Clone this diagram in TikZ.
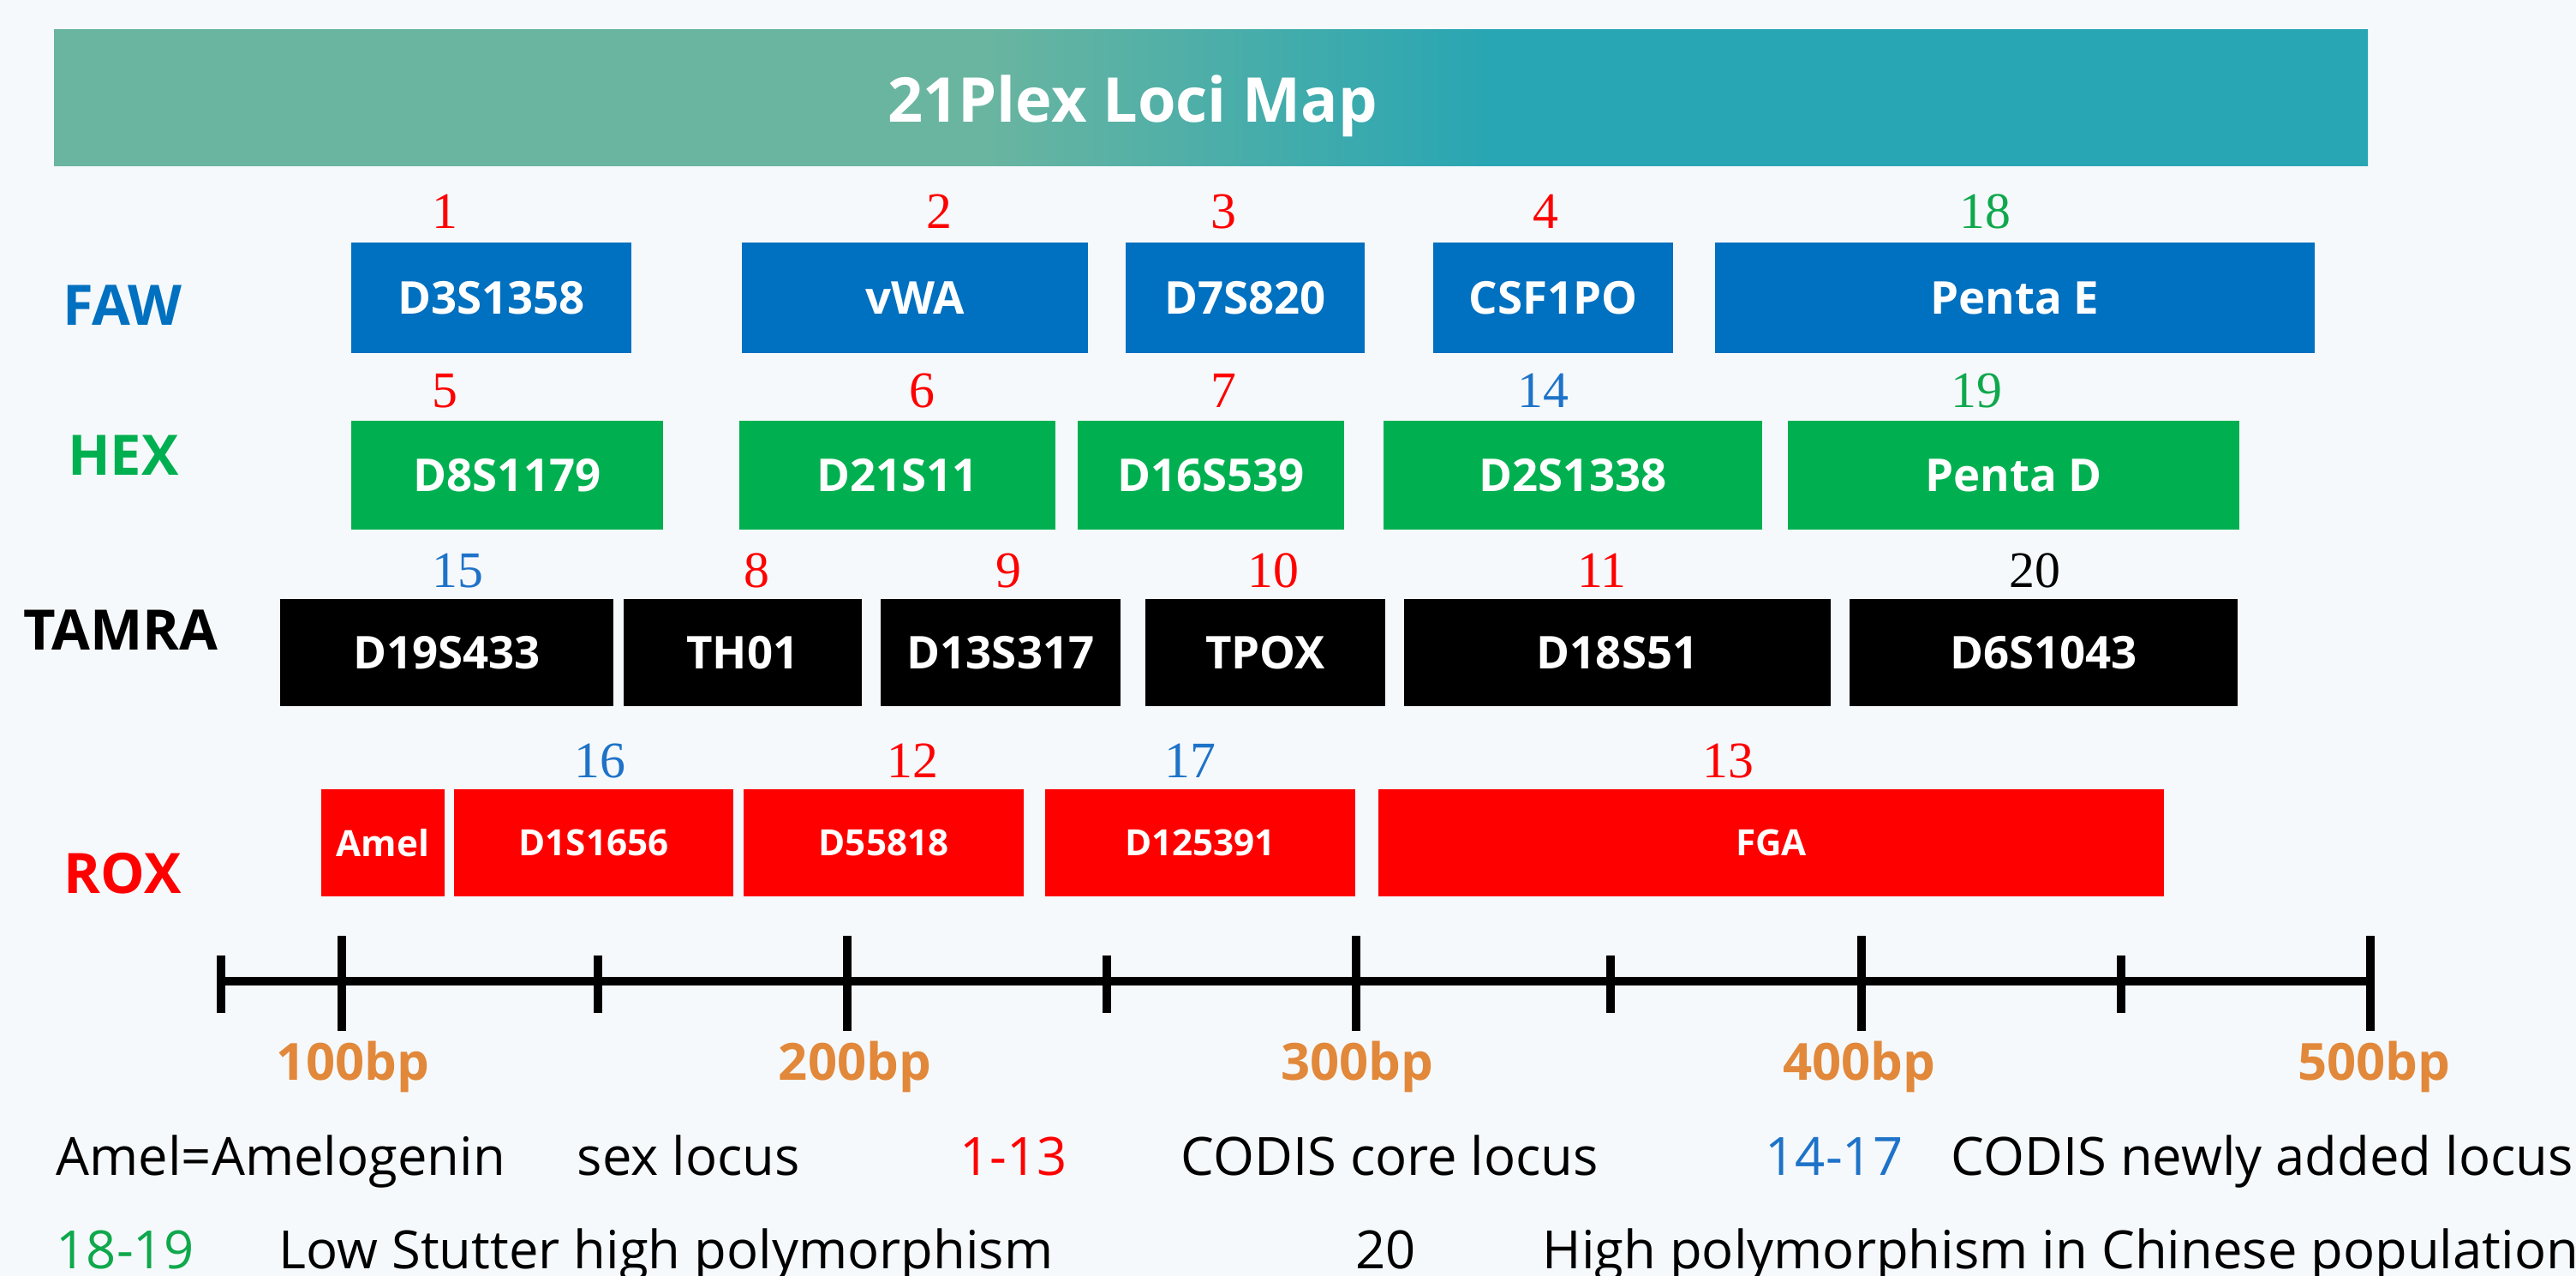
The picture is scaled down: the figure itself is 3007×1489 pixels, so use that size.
\documentclass[tikz,border=0pt]{standalone}
\usepackage{fontspec}
\setmainfont{Open Sans}
\newfontfamily\numfont{Liberation Serif}
\definecolor{paper}{HTML}{F5F9FC}
\definecolor{bannerL}{HTML}{6AB5A0}
\definecolor{bannerR}{HTML}{29A6B3}
\definecolor{faw}{HTML}{0070C0}
\definecolor{hex}{HTML}{00B050}
\definecolor{rox}{HTML}{FF0000}
\definecolor{bporange}{HTML}{E2883A}
\definecolor{numblue}{HTML}{1E73C8}
\definecolor{numgreen}{HTML}{0FA84C}
\pgfdeclarehorizontalshading{bannershade}{100bp}{color(0bp)=(bannerL); color(45bp)=(bannerL); color(56bp)=(bannerR); color(100bp)=(bannerR)}
\tikzset{
  locus/.style={rectangle, inner sep=0pt, text=white, font=\bfseries\fontsize{15}{18}\selectfont},
  fawbox/.style={locus, fill=faw, minimum height=1.29cm},
  hexbox/.style={locus, fill=hex, minimum height=1.27cm},
  tambox/.style={locus, fill=black, minimum height=1.25cm},
  roxbox/.style={locus, fill=rox, minimum height=1.24cm, font=\bfseries\fontsize{12}{14}\selectfont},
  num/.style={inner sep=0pt, font=\numfont\fontsize{17}{20}\selectfont},
  dye/.style={inner sep=0pt, font=\bfseries\fontsize{18.5}{22}\selectfont},
  bplabel/.style={inner sep=0pt, anchor=base, text=bporange, font=\bfseries\fontsize{17}{20}\selectfont},
  note/.style={inner sep=0pt, anchor=base west, font=\fontsize{17.5}{21}\selectfont},
  axis/.style={line width=0.1cm},
  majortick/.style={line width=0.1cm},
  minortick/.style={line width=0.1cm}
}
\begin{document}
\begin{tikzpicture}[x=0.01cm, y=-0.01cm]
  \useasboundingbox (0,0) rectangle (3007,1489);
  \fill[paper] (0,0) rectangle (3007,1489);
  \shade[shading=bannershade] (63,35) rectangle (2764,194);
  \node[anchor=base, inner sep=0pt, text=white, font=\bfseries\fontsize{20.5}{24}\selectfont] (title) at (1322,143) {21Plex Loci Map};

  \node[dye, text=faw] (faw) at (143,356) {FAW};
  \node[dye, text=hex] (hex) at (144,531) {HEX};
  \node[dye, text=black] (tamra) at (141,735) {TAMRA};
  \node[dye, text=rox] (rox) at (143,1019) {ROX};

  \node[fawbox, minimum width=3.27cm] (d3s1358) at (573.5,347.5) {D3S1358};
  \node[fawbox, minimum width=4.04cm] (vwa) at (1068,347.5) {vWA};
  \node[fawbox, minimum width=2.79cm] (d7s820) at (1453.5,347.5) {D7S820};
  \node[fawbox, minimum width=2.80cm] (csf1po) at (1813,347.5) {CSF1PO};
  \node[fawbox, minimum width=7.00cm] (pentae) at (2352,347.5) {Penta E};

  \node[hexbox, minimum width=3.64cm] (d8s1179) at (592,554.5) {D8S1179};
  \node[hexbox, minimum width=3.69cm] (d21s11) at (1047.5,554.5) {D21S11};
  \node[hexbox, minimum width=3.11cm] (d16s539) at (1413.5,554.5) {D16S539};
  \node[hexbox, minimum width=4.42cm] (d2s1338) at (1836,554.5) {D2S1338};
  \node[hexbox, minimum width=5.27cm] (pentad) at (2350.5,554.5) {Penta D};

  \node[tambox, minimum width=3.89cm] (d19s433) at (521.5,761.5) {D19S433};
  \node[tambox, minimum width=2.78cm] (th01) at (867,761.5) {TH01};
  \node[tambox, minimum width=2.80cm] (d13s317) at (1168,761.5) {D13S317};
  \node[tambox, minimum width=2.80cm] (tpox) at (1477,761.5) {TPOX};
  \node[tambox, minimum width=4.98cm] (d18s51) at (1888,761.5) {D18S51};
  \node[tambox, minimum width=4.53cm] (d6s1043) at (2385.5,761.5) {D6S1043};

  \node[roxbox, minimum width=1.44cm] (amel) at (447,983.5) {Amel};
  \node[roxbox, minimum width=3.26cm] (d1s1656) at (693,983.5) {D1S1656};
  \node[roxbox, minimum width=3.27cm] (d55818) at (1031.5,983.5) {D55818};
  \node[roxbox, minimum width=3.62cm] (d125391) at (1401,983.5) {D125391};
  \node[roxbox, minimum width=9.17cm] (fga) at (2067.5,983.5) {FGA};

  \node[num, text=rox] (n1) at (519,247) {1};
  \node[num, text=rox] (n2) at (1096,247) {2};
  \node[num, text=rox] (n3) at (1428,247) {3};
  \node[num, text=rox] (n4) at (1804,247) {4};
  \node[num, text=numgreen] (n18) at (2317,247) {18};
  \node[num, text=rox] (n5) at (519,456) {5};
  \node[num, text=rox] (n6) at (1076,456) {6};
  \node[num, text=rox] (n7) at (1428,456) {7};
  \node[num, text=numblue] (n14) at (1801,456) {14};
  \node[num, text=numgreen] (n19) at (2307,456) {19};
  \node[num, text=numblue] (n15) at (534,666) {15};
  \node[num, text=rox] (n8) at (883,666) {8};
  \node[num, text=rox] (n9) at (1177,666) {9};
  \node[num, text=rox] (n10) at (1486,666) {10};
  \node[num, text=rox] (n11) at (1870,666) {11};
  \node[num, text=black] (n20) at (2375,666) {20};
  \node[num, text=numblue] (n16) at (700,888) {16};
  \node[num, text=rox] (n12) at (1065,888) {12};
  \node[num, text=numblue] (n17) at (1389,888) {17};
  \node[num, text=rox] (n13) at (2017,888) {13};

  \draw[axis] (258,1145) -- (2767,1145);
  \draw[minortick] (258,1115) -- (258,1182);
  \draw[majortick] (399,1092) -- (399,1203);
  \draw[minortick] (698,1115) -- (698,1182);
  \draw[majortick] (989,1092) -- (989,1203);
  \draw[minortick] (1292,1115) -- (1292,1182);
  \draw[majortick] (1583,1092) -- (1583,1203);
  \draw[minortick] (1880,1115) -- (1880,1182);
  \draw[majortick] (2173,1092) -- (2173,1203);
  \draw[minortick] (2476,1115) -- (2476,1182);
  \draw[majortick] (2767,1092) -- (2767,1203);

  \node[bplabel] (bp100) at (412,1260) {100bp};
  \node[bplabel] (bp200) at (998,1260) {200bp};
  \node[bplabel] (bp300) at (1584,1260) {300bp};
  \node[bplabel] (bp400) at (2170,1260) {400bp};
  \node[bplabel] (bp500) at (2771,1260) {500bp};

  \node[note] (amelnote) at (65,1371) {Amel=Amelogenin};
  \node[note] (sexnote) at (673,1371) {sex locus};
  \node[note, text=rox] (core) at (1120,1371) {1-13};
  \node[note] (corenote) at (1378,1371) {CODIS core locus};
  \node[note, text=numblue] (added) at (2060,1371) {14-17};
  \node[note] (addednote) at (2277,1371) {CODIS newly added locus};
  \node[note, text=numgreen] (stutter) at (65,1480) {18-19};
  \node[note] (stutternote) at (325,1480) {Low Stutter high polymorphism};
  \node[note] (chinese) at (1582,1480) {20};
  \node[note] (chinesenote) at (1800,1480) {High polymorphism in Chinese population};
\end{tikzpicture}
\end{document}
